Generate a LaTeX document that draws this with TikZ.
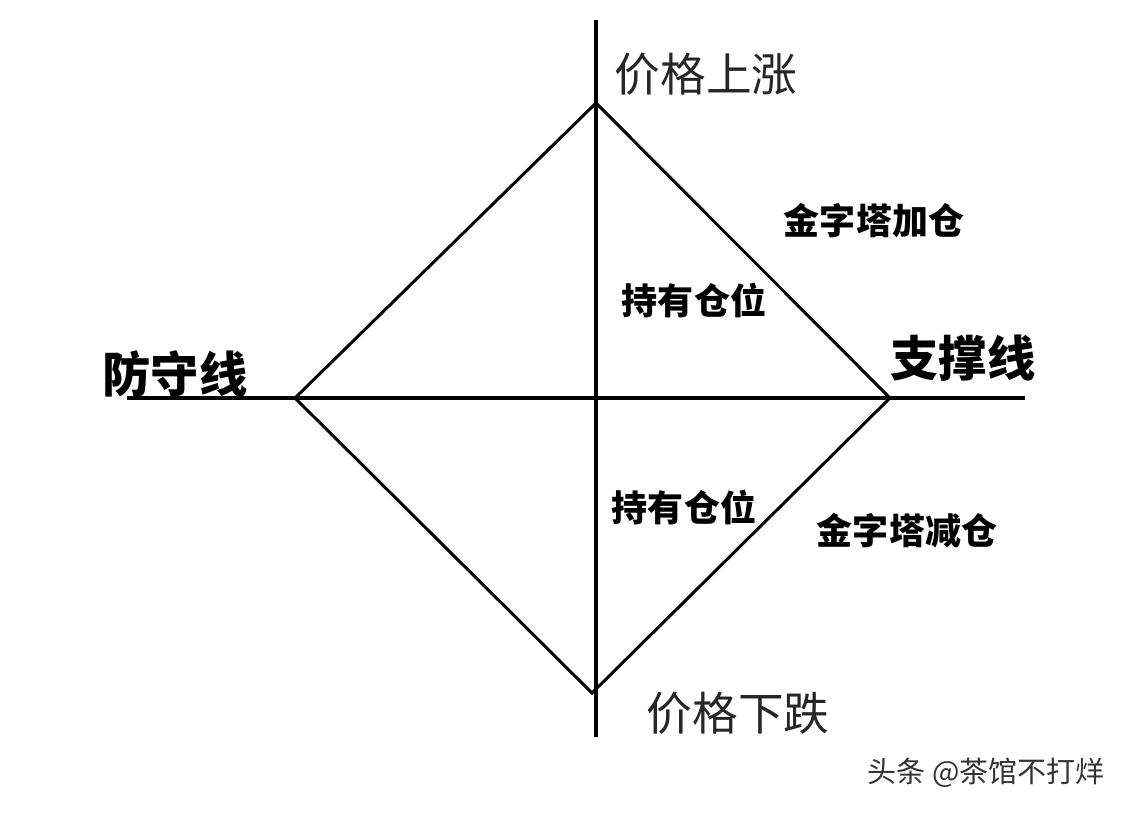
\documentclass[tikz,border=0pt]{standalone}
\usepackage{fontspec}
\newfontfamily\cjk{Noto Sans CJK SC}
\usetikzlibrary{positioning}

\tikzset{
	axisline/.style = {line width = 2.3pt, black},
	edgeline/.style = {line width = 1.7pt, black},
	plainlabel/.style = {font = \cjk\fontsize{26}{30}\selectfont, text = black!85},
	biglabel/.style = {font = \cjk\bfseries\fontsize{27.5}{32}\selectfont},
	smalllabel/.style = {font = \cjk\bfseries\fontsize{20.5}{24}\selectfont},
	marklabel/.style = {font = \cjk\fontsize{16.5}{19}\selectfont, text = black!80}
}

\begin{document}
\begin{tikzpicture}[x = 0.02cm, y = -0.02cm]
			\useasboundingbox (0, 0) rectangle (1128, 812);
			% axes
			\coordinate (axisTop) at (596, 20);
			\coordinate (axisBottom) at (596, 737);
			\coordinate (axisLeft) at (127, 398);
			\coordinate (axisRight) at (1025, 398);
			\draw[axisline] (axisTop) -- (axisBottom);
			\draw[axisline] (axisLeft) -- (axisRight);
			
			% diamond
			\coordinate (peak) at (596, 103);
			\coordinate (support) at (890, 398);
			\coordinate (trough) at (592, 693);
			\coordinate (defense) at (295, 398);
			\draw[edgeline, line join = miter] (peak) -- (support) -- (trough) -- (defense) -- cycle;
			
			% labels
			\node[plainlabel] (rise) at (706, 74) {价格上涨};
			\node[plainlabel] (fall) at (738, 713) {价格下跌};
			\node[biglabel] (defenseLabel) at (175, 374) {防守线};
			\node[biglabel] (supportLabel) at (963, 358) {支撑线};
			\node[smalllabel] (addPos) at (874, 221) {金字塔加仓};
			\node[smalllabel] (holdUp) at (694, 300) {持有仓位};
			\node[smalllabel] (holdDown) at (684, 507) {持有仓位};
			\node[smalllabel] (cutPos) at (907, 531) {金字塔减仓};
			\node[marklabel] (mark) at (986, 773) {头条 @茶馆不打烊};
\end{tikzpicture}
\end{document}
